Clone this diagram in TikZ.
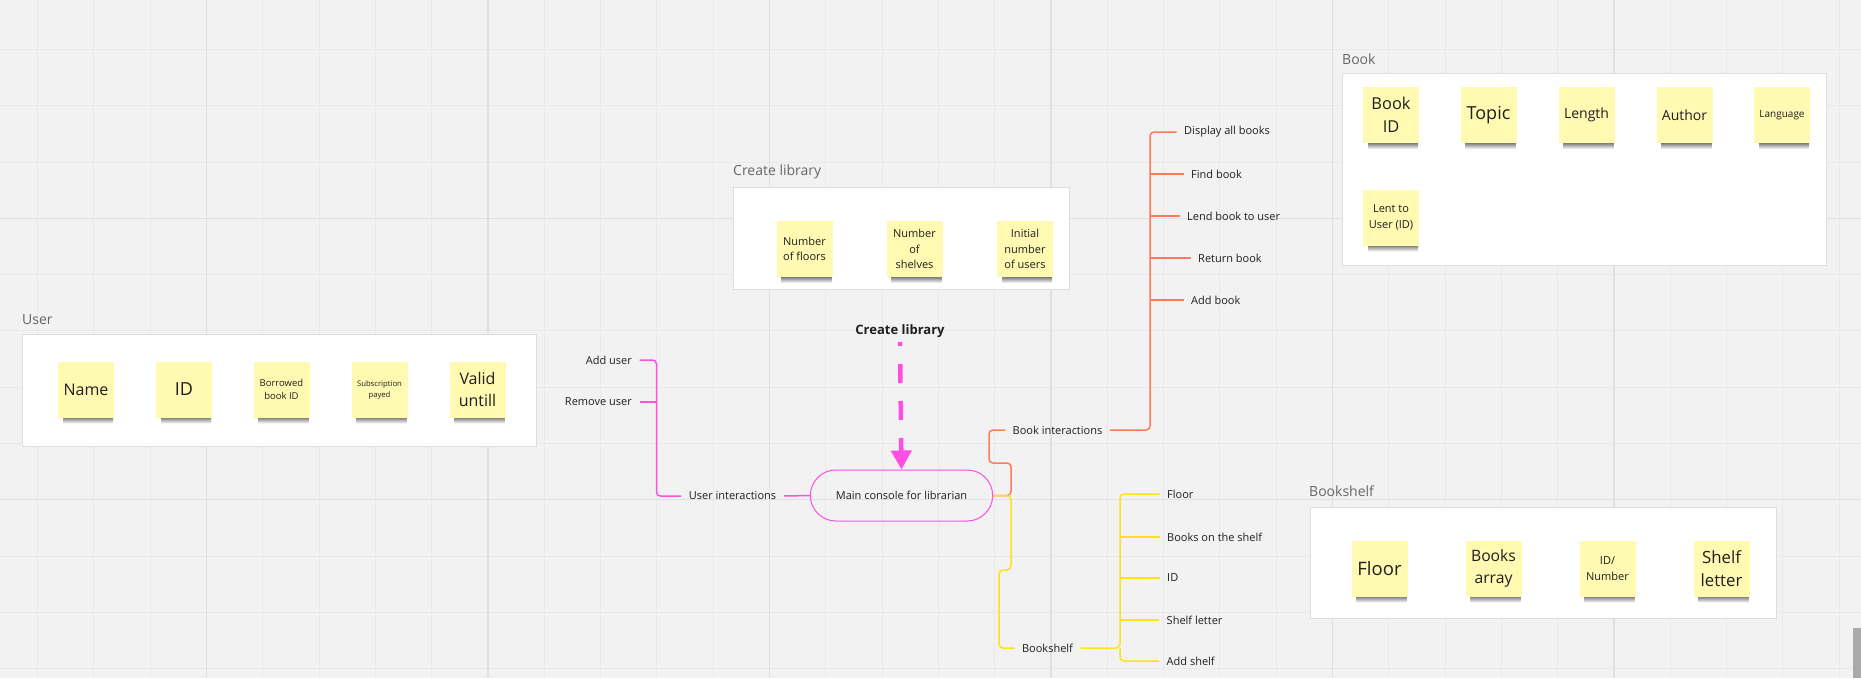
\documentclass[tikz,border=0pt]{standalone}
\usepackage{fontspec}
\setmainfont{Open Sans}
\usetikzlibrary{shapes.misc, arrows.meta}
\definecolor{bg}{HTML}{F2F2F2}
\definecolor{gridminor}{HTML}{E9E9E9}
\definecolor{gridmajor}{HTML}{E0E0E0}
\definecolor{stickyc}{HTML}{FFF9B1}
\definecolor{framebd}{HTML}{DDDDDD}
\definecolor{mag}{HTML}{FF4FE3}
\definecolor{orng}{HTML}{FF7A59}
\definecolor{yel}{HTML}{FFE11A}
\definecolor{txt}{HTML}{1F1F1F}
\definecolor{ttl}{HTML}{666666}
\definecolor{scrollc}{HTML}{AAAAAA}
\newcommand\sz[2]{\fontsize{#1pt}{#2pt}\selectfont}
\newcommand\stk[5]{%
  \shade[top color=black!60, bottom color=white] (#2-23,#3+27) rectangle (#2+27,#3+34);
  \node[sticky, font=#4] (#1) at (#2,#3) {#5};
}
\tikzset{
  frame/.style={draw=framebd, line width=1pt, fill=white},
  ttlnode/.style={anchor=west, inner sep=0pt, text=ttl, font=\sz{14}{18}},
  sticky/.style={fill=stickyc, minimum width=56pt, minimum height=56pt, inner sep=1pt, align=center, text=txt},
  lbl/.style={font=\sz{11}{14}, inner xsep=7.5pt, inner ysep=2pt, text=txt},
  conn/.style={line width=1.5pt, rounded corners=4pt},
}
\begin{document}
\begin{tikzpicture}[x=1pt, y=-1pt]
\useasboundingbox (0,0) rectangle (1861,678);
\fill[bg] (0,0) rectangle (1861,678);
% grid
\foreach \i in {0,...,32} \draw[gridminor, line width=1pt] (37.5+56.3*\i,0) -- (37.5+56.3*\i,678);
\foreach \j in {0,...,11} \draw[gridminor, line width=1pt] (0,49.4+56.3*\j) -- (1861,49.4+56.3*\j);
\foreach \i in {3,8,...,28} \draw[gridmajor, line width=1.6pt] (37.5+56.3*\i,0) -- (37.5+56.3*\i,678);
\foreach \j in {3,8} \draw[gridmajor, line width=1.3pt] (0,49.4+56.3*\j) -- (1861,49.4+56.3*\j);
\fill[scrollc] (1853,628) rectangle (1861,678);

% frames
\draw[frame] (22,334) rectangle (536,446);
\node[ttlnode] (tuser) at (22,320) {User};
\draw[frame] (733,187) rectangle (1069,289);
\node[ttlnode] (tcl) at (733,172) {Create library};
\draw[frame] (1342,73) rectangle (1826,265);
\node[ttlnode] (tbook) at (1342,59) {Book};
\draw[frame] (1310,507) rectangle (1776,618);
\node[ttlnode] (tshelf) at (1309,491) {Bookshelf};

% user stickies
\stk{uname}{86}{389.5}{\sz{16}{22}}{Name}
\stk{uid}{184}{389.5}{\sz{18}{24}}{ID}
\stk{ubor}{281.5}{389.5}{\sz{9.5}{13}}{Borrowed\\book ID}
\stk{usub}{379.5}{389.5}{\sz{7.7}{11}\color{ttl!80!black}}{Subscription\\payed}
\stk{uval}{477.5}{389.5}{\sz{16}{22}}{Valid\\untill}
% create library stickies
\stk{cfl}{804.5}{249}{\sz{11}{15.5}}{Number\\of floors}
\stk{csh}{914.5}{249}{\sz{11}{15.5}}{Number\\of\\shelves}
\stk{cus}{1025}{249}{\sz{11}{15.5}}{Initial\\number\\of users}
% book stickies
\stk{bid}{1391}{115}{\sz{16.4}{22.7}}{Book\\ID}
\stk{btop}{1488.5}{115}{\sz{18}{24}}{Topic}
\stk{blen}{1586.5}{115}{\sz{14}{19}}{Length}
\stk{baut}{1684.5}{115}{\sz{14}{19}}{Author}
\stk{blang}{1782}{115}{\sz{10}{13}}{Language}
\stk{blent}{1391}{217.5}{\sz{11}{15.5}}{Lent to\\User (ID)}
% bookshelf stickies
\stk{sfl}{1379.5}{568.5}{\sz{18.5}{24}}{Floor}
\stk{sba}{1493.5}{568.5}{\sz{15.7}{22.5}}{Books\\array}
\stk{sid2}{1607.5}{568.5}{\sz{11}{16}}{ID/\\Number}
\stk{ssl}{1721.5}{568.5}{\sz{16.8}{22.7}}{Shelf\\letter}

% mind map
\node[draw=mag, line width=1pt, rounded rectangle, minimum width=189pt, minimum height=51pt, font=\sz{11}{14}, text=txt] (console) at (901.5,495.5) {Main console for librarian};
\node[font=\bfseries\sz{13}{16}, text=txt, inner sep=0pt] (cl) at (900,331) {Create library};
\coordinate (clb) at (900,342);

\node[lbl] (ui) at (732.5,496) {User interactions};
\node[lbl, anchor=east] (addu) at (639.5,360) {Add user};
\node[lbl, anchor=east] (remu) at (639.5,402) {Remove user};

\node[lbl] (bi) at (1057.5,430) {Book interactions};
\node[lbl, anchor=west] (disp) at (1176.5,132) {Display all books};
\node[lbl, anchor=west] (find) at (1183.5,174) {Find book};
\node[lbl, anchor=west] (lend) at (1179.5,216) {Lend book to user};
\node[lbl, anchor=west] (ret) at (1190.5,258) {Return book};
\node[lbl, anchor=west] (addb) at (1183.5,300) {Add book};

\node[lbl] (bs) at (1047.5,648) {Bookshelf};
\node[lbl, anchor=west] (floor) at (1159.5,494) {Floor};
\node[lbl, anchor=west] (bots) at (1159.5,537) {Books on the shelf};
\node[lbl, anchor=west] (sid) at (1159.5,578) {ID};
\node[lbl, anchor=west] (sl) at (1159,620) {Shelf letter};
\node[lbl, anchor=west] (adds) at (1159,661) {Add shelf};

% connectors
\draw[mag, line width=4.5pt, dash pattern=on 19pt off 18pt, dash phase=15pt, -{Triangle[width=20pt,length=19pt]}] (clb) -- (console.north);

\draw[conn, mag] (addu.east) -- ++(17,0) |- (ui.west);
\draw[conn, mag] (remu.east) -- ++(17,0);
\draw[conn, mag] (ui.east) -- (console.west);

\draw[conn, orng] (console.east) -| (1011,463) -| (989,430) -- (bi.west);
\coordinate (ot) at (1150,430);
\draw[conn, orng] (bi.east) -- (ot) |- (disp.west);
\foreach \n in {find,lend,ret,addb} \draw[conn, orng] (ot |- \n.west) -- (\n.west);

\draw[conn, yel] (console.east) -| (1011,570) -| (999,648) -- (bs.west);
\coordinate (yt) at (1120,648);
\draw[conn, yel] (bs.east) -- (yt) |- (floor.west);
\draw[conn, yel] (yt) |- (adds.west);
\foreach \n in {bots,sid,sl} \draw[conn, yel] (yt |- \n.west) -- (\n.west);
\end{tikzpicture}
\end{document}
